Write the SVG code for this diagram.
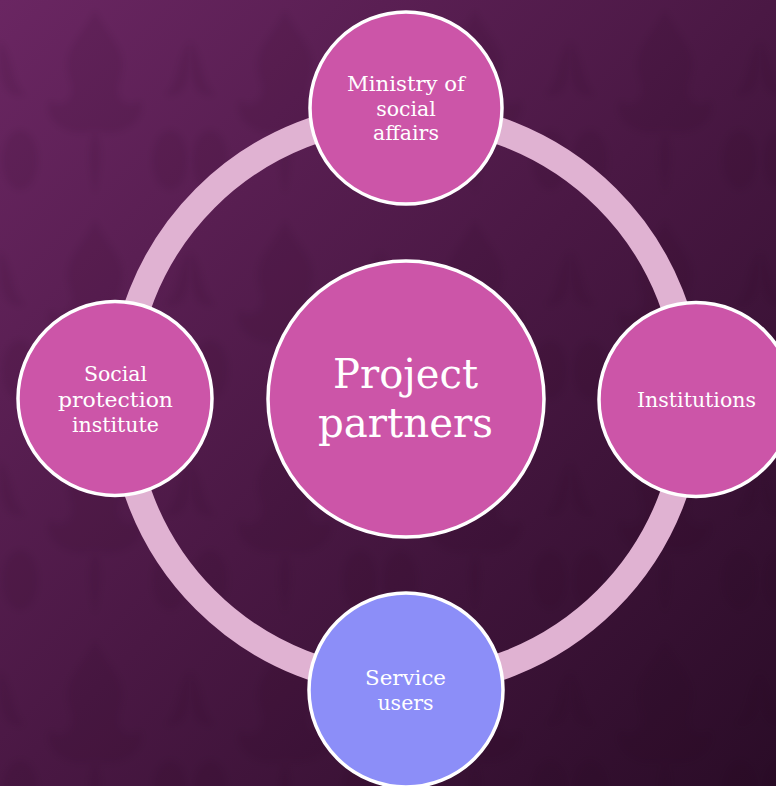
<svg xmlns="http://www.w3.org/2000/svg" width="776" height="786" viewBox="0 0 776 786">
  <defs>
    <linearGradient id="bg" x1="0" y1="0" x2="1" y2="1">
      <stop offset="0" stop-color="#6a2662"/>
      <stop offset="0.5" stop-color="#4a1844"/>
      <stop offset="1" stop-color="#2a0c27"/>
    </linearGradient>
    <filter id="soft" x="-10%" y="-10%" width="120%" height="120%">
      <feGaussianBlur stdDeviation="3"/>
    </filter>
    <!-- faint damask motif tiled over the backdrop -->
    <pattern id="damask" width="190" height="210" patternUnits="userSpaceOnUse">
      <g fill="#1c0519" opacity="0.09" filter="url(#soft)">
        <path d="M95 10 C80 40 60 50 70 80 C78 100 60 110 50 100 C40 120 70 140 95 130 C120 140 150 120 140 100 C130 110 112 100 120 80 C130 50 110 40 95 10 Z"/>
        <path d="M95 130 C85 150 90 170 95 195 C100 170 105 150 95 130 Z"/>
        <ellipse cx="20" cy="160" rx="18" ry="30"/>
        <ellipse cx="170" cy="160" rx="18" ry="30"/>
        <path d="M0 40 C15 60 10 80 25 95 C5 100 -5 80 0 40 Z"/>
        <path d="M190 40 C175 60 180 80 165 95 C185 100 195 80 190 40 Z"/>
      </g>
    </pattern>
    <style>
      .node { stroke: #ffffff; stroke-width: 3.5; }
      .pink { fill: #cc55a8; }
      .blue { fill: #8c8ef8; }
      .label { fill: #ffffff; font-family: "DejaVu Serif", "Liberation Serif", serif; font-size: 20.5px; text-anchor: middle; }
      .big { font-size: 41px; }
      .ring { fill: none; stroke: #e0b2d2; stroke-width: 27; }
    </style>
  </defs>

  <!-- backdrop -->
  <rect width="776" height="786" fill="url(#bg)"/>
  <rect width="776" height="786" fill="url(#damask)"/>

  <!-- cycle connector -->
  <g id="connectors">
    <circle class="ring" cx="406" cy="399" r="284"/>
  </g>

  <g id="node-ministry">
    <circle class="node pink" cx="406" cy="108" r="96"/>
    <text class="label" x="406" y="91" textLength="118" lengthAdjust="spacingAndGlyphs">Ministry of</text>
    <text class="label" x="406" y="115.5">social</text>
    <text class="label" x="406" y="140">affairs</text>
  </g>

  <g id="node-institutions">
    <circle class="node pink" cx="696" cy="399.5" r="97"/>
    <text class="label" x="696.5" y="406.5" textLength="119" lengthAdjust="spacingAndGlyphs">Institutions</text>
  </g>

  <g id="node-service-users">
    <circle class="node blue" cx="406" cy="690" r="97"/>
    <text class="label" x="405.5" y="685" textLength="81" lengthAdjust="spacingAndGlyphs">Service</text>
    <text class="label" x="405.5" y="709.5">users</text>
  </g>

  <g id="node-social-protection">
    <circle class="node pink" cx="115" cy="398.5" r="97"/>
    <text class="label" x="115.5" y="381">Social</text>
    <text class="label" x="115.5" y="406.5" textLength="115" lengthAdjust="spacingAndGlyphs">protection</text>
    <text class="label" x="115.5" y="431.5">institute</text>
  </g>

  <g id="node-project-partners">
    <circle class="node pink" cx="406" cy="399" r="138"/>
    <text class="label big" x="405.5" y="388" textLength="145" lengthAdjust="spacingAndGlyphs">Project</text>
    <text class="label big" x="405.5" y="437" textLength="175" lengthAdjust="spacingAndGlyphs">partners</text>
  </g>
</svg>
